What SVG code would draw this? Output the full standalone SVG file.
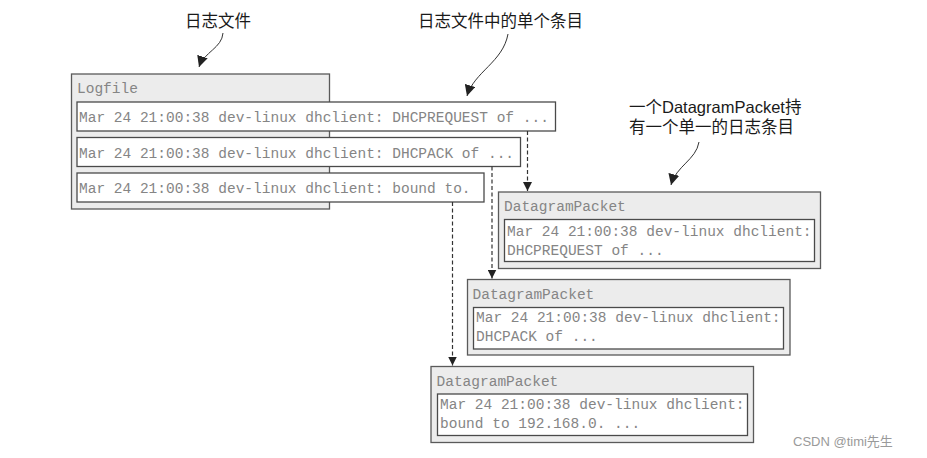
<svg xmlns="http://www.w3.org/2000/svg" width="927" height="458" viewBox="0 0 927 458">
<defs>
<style>
.outer{fill:#ececec;stroke:#5a5a5a;stroke-width:1.3}
.inner{fill:#ffffff;stroke:#4a4a4a;stroke-width:1.3}
.mono{font-family:"Liberation Mono","DejaVu Sans Mono",monospace;font-size:14.5px;fill:#858585}
.lbl{font-family:"Liberation Sans","Noto Sans CJK SC",sans-serif;font-size:16.5px;fill:#1a1a1a}
.dash{fill:none;stroke:#333333;stroke-width:1.2;stroke-dasharray:4 2.5}
.curve{fill:none;stroke:#333333;stroke-width:1}
.wm{font-family:"Liberation Sans","Noto Sans CJK SC",sans-serif;font-size:13px;fill:#9a9a9a}
</style>
<marker id="ah" viewBox="0 0 10 10" refX="10" refY="5" markerWidth="9" markerHeight="9" markerUnits="userSpaceOnUse" orient="auto">
<path d="M0,0 L10,5 L0,10 z" fill="#222222"/>
</marker>
<marker id="ah2" viewBox="0 0 10 10" refX="10" refY="5" markerWidth="11" markerHeight="11" markerUnits="userSpaceOnUse" orient="auto">
<path d="M0,0 L10,5 L0,10 z" fill="#222222"/>
</marker>
</defs>
<rect width="927" height="458" fill="#ffffff"/>

<g id="logfile">
<rect class="outer" x="71.5" y="74" width="258" height="135"/>
<text class="mono" x="77" y="93">Logfile</text>
</g>
<g id="entry1">
<rect class="inner" x="77" y="102" width="478.5" height="29"/>
<text class="mono" x="79" y="122">Mar 24 21:00:38 dev-linux dhclient: DHCPREQUEST of ...</text>
</g>
<g id="entry2">
<rect class="inner" x="77" y="137.5" width="443.5" height="29"/>
<text class="mono" x="79" y="157.5">Mar 24 21:00:38 dev-linux dhclient: DHCPACK of ...</text>
</g>
<g id="entry3">
<rect class="inner" x="77" y="173" width="407" height="29"/>
<text class="mono" x="79" y="193">Mar 24 21:00:38 dev-linux dhclient: bound to.</text>
</g>

<g id="packet1">
<rect class="outer" x="498.5" y="192" width="322" height="76.5"/>
<text class="mono" x="504" y="211">DatagramPacket</text>
<rect class="inner" x="504.5" y="219.5" width="310" height="42"/>
<text class="mono" x="507" y="235.5">Mar 24 21:00:38 dev-linux dhclient:</text>
<text class="mono" x="507" y="254.5">DHCPREQUEST of ...</text>
</g>
<g id="packet2">
<rect class="outer" x="467.5" y="279.5" width="322.5" height="75.5"/>
<text class="mono" x="472.5" y="298.5">DatagramPacket</text>
<rect class="inner" x="473.5" y="307.5" width="310" height="41.5"/>
<text class="mono" x="476" y="322">Mar 24 21:00:38 dev-linux dhclient:</text>
<text class="mono" x="476" y="341">DHCPACK of ...</text>
</g>
<g id="packet3">
<rect class="outer" x="431" y="366.5" width="322.5" height="76"/>
<text class="mono" x="436.5" y="385.5">DatagramPacket</text>
<rect class="inner" x="437.5" y="394" width="310" height="41.5"/>
<text class="mono" x="440" y="408.5">Mar 24 21:00:38 dev-linux dhclient:</text>
<text class="mono" x="440" y="427.5">bound to 192.168.0. ...</text>
</g>

<g id="labels">
<text class="lbl" x="185" y="27">日志文件</text>
<text class="lbl" x="418" y="27">日志文件中的单个条目</text>
<text class="lbl" x="629" y="113">一个DatagramPacket持</text>
<text class="lbl" x="629" y="133">有一个单一的日志条目</text>
</g>

<g id="connectors">
<path class="dash" d="M527.5,131 V191" marker-end="url(#ah)"/>
<path class="dash" d="M492,166.5 V278.5" marker-end="url(#ah)"/>
<path class="dash" d="M452.5,202 V365.5" marker-end="url(#ah)"/>
<path class="curve" d="M223,33 C222,48 204,52 199,67" marker-end="url(#ah2)"/>
<path class="curve" d="M508,34 C503,62 474,72 467,96" marker-end="url(#ah2)"/>
<path class="curve" d="M699,142 C696,160 676,166 671,185" marker-end="url(#ah2)"/>
</g>

<text class="wm" x="793" y="446">CSDN @timi先生</text>
</svg>
